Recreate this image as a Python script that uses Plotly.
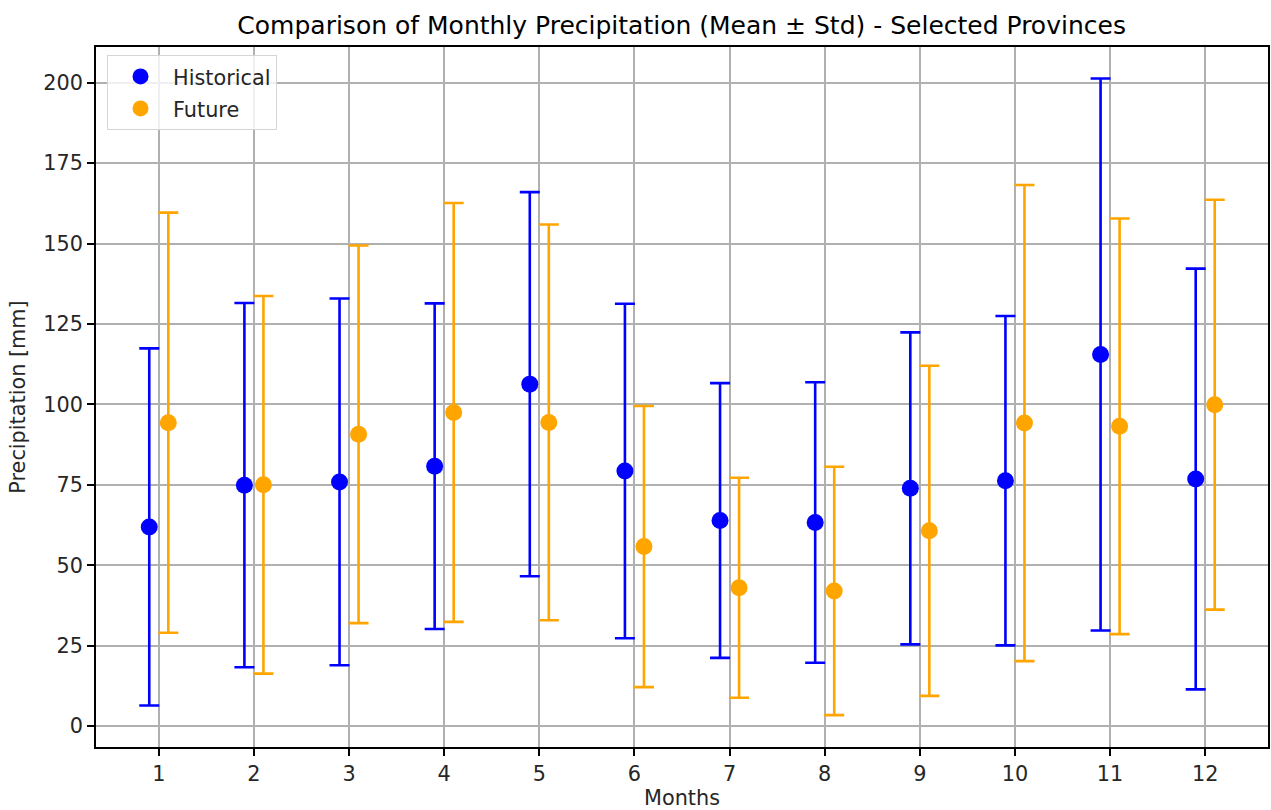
import plotly.graph_objects as go

months = list(range(1, 13))
hist_mean = [61.9, 74.9, 75.9, 80.8, 106.3, 79.3, 63.9, 63.3, 73.9, 76.3, 115.5, 76.8]
hist_std = [55.5, 56.6, 57.0, 50.6, 59.7, 52.0, 42.7, 43.6, 48.5, 51.2, 85.8, 65.4]
fut_mean = [94.3, 75.0, 90.7, 97.5, 94.4, 55.8, 43.0, 42.0, 60.7, 94.2, 93.2, 99.9]
fut_std = [65.3, 58.7, 58.7, 65.1, 61.5, 43.7, 34.2, 38.6, 51.3, 74.0, 64.6, 63.7]
offset = 0.1
y_ticks = [0, 25, 50, 75, 100, 125, 150, 175, 200]

FONT = "DejaVu Sans"
TXT = "#262626"
FS = 20.8

fig = go.Figure()
fig.add_trace(go.Scatter(
    x=[m - offset for m in months], y=hist_mean, mode="markers", name="Historical",
    legendgroup="h",
    marker=dict(color="blue", size=17, symbol="circle"),
    error_y=dict(type="data", array=hist_std, visible=True, color="blue", thickness=2.6, width=10),
))
fig.add_trace(go.Scatter(
    x=[m + offset for m in months], y=fut_mean, mode="markers", name="Future",
    legendgroup="f",
    marker=dict(color="orange", size=17, symbol="circle"),
    error_y=dict(type="data", array=fut_std, visible=True, color="orange", thickness=2.6, width=10),
))

axis_common = dict(
    showgrid=True, gridcolor="#b0b0b0", gridwidth=1.6,
    showline=True, linecolor="black", linewidth=1.6, mirror=True,
    ticks="outside", ticklen=7, tickcolor="black", tickwidth=1.6,
    zeroline=False, tickfont=dict(family=FONT, size=FS, color=TXT),
    automargin=False,
)

fig.update_layout(
    width=1271, height=810,
    margin=dict(l=96, r=3, t=47, b=63),
    paper_bgcolor="white", plot_bgcolor="white",
    font=dict(family=FONT, color=TXT),
    title=dict(text="Comparison of Monthly Precipitation (Mean ± Std) - Selected Provinces",
               x=0.5363, xanchor="center", y=0.969, yanchor="middle",
               font=dict(family=FONT, size=25, color="black")),
    xaxis=dict(range=[0.34, 12.66], tickmode="array", tickvals=months,
               ticktext=[str(m) for m in months],
               title=dict(text="Months", font=dict(family=FONT, size=FS, color=TXT), standoff=9),
               **axis_common),
    yaxis=dict(range=[-6.5, 211.1], tickmode="array", tickvals=y_ticks,
               ticktext=[str(v) for v in y_ticks],
               title=dict(text="Precipitation [mm]", font=dict(family=FONT, size=FS, color=TXT), standoff=12),
               **axis_common),
    legend=dict(x=0.0094, y=0.988, xanchor="left", yanchor="top",
                bgcolor="rgba(255,255,255,0.8)", bordercolor="#d6d6d6", borderwidth=1,
                font=dict(family=FONT, size=FS, color=TXT), itemwidth=55,
                tracegroupgap=2),
    showlegend=True,
)

fig.write_html("out.html")
